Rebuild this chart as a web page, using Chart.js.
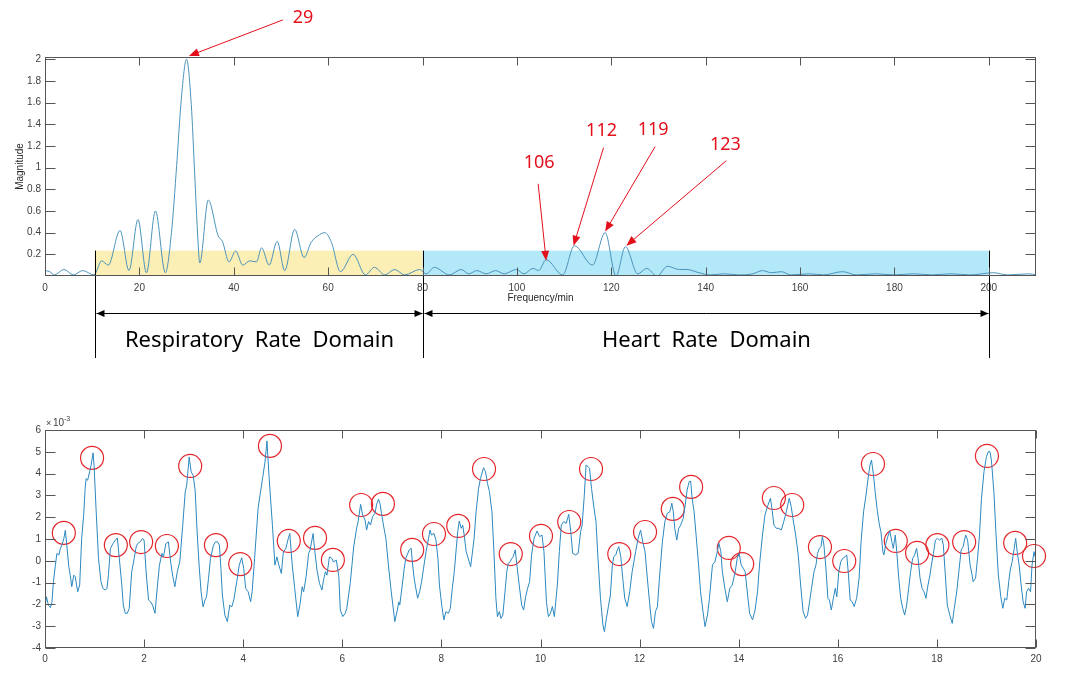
<!DOCTYPE html>
<html>
<head>
<meta charset="utf-8">
<script src="https://cdn.jsdelivr.net/npm/chart.js@4.4.1/dist/chart.umd.min.js"></script>
<style>
  html, body { margin: 0; padding: 0; background: #fff; width: 1069px; height: 683px; overflow: hidden; }
  canvas { position: absolute; left: 0; }
  #spec { top: 0; }
  #wave { top: 380px; }
</style>
</head>
<body>
<canvas id="spec" width="1069" height="380"></canvas>
<canvas id="wave" width="1069" height="303"></canvas>
<script>
// ---- spectrum (top) ----
const freq = [0, 1, 2, 4, 6, 8, 10.4, 12, 13.4, 15.9, 17.8, 19.7, 21.5, 23.4, 25.5, 26.8, 27.9, 28.9, 30, 31, 31.7, 32.4, 32.8,
  34.6, 36.7, 37.6, 39, 40.4, 41.9, 43.4, 44.8, 45.9, 47.5, 49.2, 50.8, 52.9, 54.9, 56.4, 57.8, 59.3, 60.7, 62.6, 65.3,
  67.9, 69.8, 72, 74.1, 76.2, 79.4, 80.8, 82.5, 85.7, 88.2, 89.8, 91.5, 93.5, 95.5, 97.3, 99.9, 101.5, 103.4, 104.6,
  106.2, 109.7, 112.2, 116, 118.7, 121, 123, 125.6, 127.5, 129.7, 131.9, 134.4, 136, 138.6, 141, 144, 147, 150, 152,
  154, 156, 158, 162, 165, 169, 172, 176, 180, 184, 188, 192, 196, 201, 204, 208.5, 210];
const mag = [0.05, 0.04, 0.01, 0.06, 0.01, 0.05, 0.01, 0.14, 0.10, 0.42, 0.05, 0.52, 0.03, 0.60, 0.03, 0.40, 1.02, 1.64, 2.00, 1.58, 0.96, 0.34, 0.12,
  0.70, 0.37, 0.32, 0.13, 0.23, 0.10, 0.14, 0.13, 0.26, 0.10, 0.32, 0.05, 0.43, 0.17, 0.31, 0.37, 0.40, 0.31, 0.04, 0.20,
  0.01, 0.08, 0.01, 0.06, 0.01, 0.06, 0.02, 0.08, 0.01, 0.06, 0.02, 0.05, 0.02, 0.05, 0.02, 0.06, 0.02, 0.07, 0.05,
  0.15, 0.01, 0.28, 0.10, 0.40, 0.00, 0.27, 0.02, 0.07, 0.00, 0.09, 0.06, 0.06, 0.03, 0.01, 0.02, 0.01, 0.02, 0.05,
  0.03, 0.04, 0.01, 0.02, 0.01, 0.04, 0.01, 0.02, 0.01, 0.02, 0.01, 0.02, 0.01, 0.03, 0.01, 0.02, 0.01];
const freqTicks = [0, 20, 40, 60, 80, 100, 120, 140, 160, 180, 200];
const magTicks = [0.2, 0.4, 0.6, 0.8, 1, 1.2, 1.4, 1.6, 1.8, 2];
const magTickLabels = ['0.2', '0.4', '0.6', '0.8', '1', '1.2', '1.4', '1.6', '1.8', '2'];

const peakLabels = ['29', '106', '112', '119', '123'];
const peakFreq = [30.5, 106.2, 112.0, 118.7, 123.2];
const peakMag = [2.03, 0.14, 0.28, 0.41, 0.28];
// where the label and the arrow tail sit, in px from the arrow tip
const labelOffset = [[114, -38], [-7, -98], [28, -115], [48, -102], [99, -101]];
const tailOffset = [[94, -36], [-8, -77], [30, -98], [50, -85], [100, -85]];

const domainNames = ['Respiratory  Rate  Domain', 'Heart  Rate  Domain'];
const domainEdges = [10.5, 80, 200];
const domainColors = ['#fcefb6', '#b3e8f8'];
const bandTop = 0.234;

// ---- time signal (bottom), values x1e-3 ----
const sigT = [0, 0.03, 0.07, 0.11, 0.14, 0.17, 0.21, 0.24, 0.28, 0.31, 0.34, 0.38, 0.41, 0.44, 0.48, 0.51, 0.54, 0.58, 0.61, 0.66,
  0.70, 0.74, 0.78, 0.81, 0.83, 0.86, 0.90, 0.93, 0.97, 0.99, 1.03, 1.08, 1.13, 1.17, 1.21, 1.25, 1.28, 1.32, 1.37, 1.42,
  1.46, 1.50, 1.55, 1.58, 1.62, 1.66, 1.70, 1.75, 1.80, 1.84, 1.87, 1.92, 1.97, 2.00, 2.04, 2.09, 2.13, 2.17, 2.22, 2.27,
  2.31, 2.36, 2.39, 2.44, 2.49, 2.54, 2.58, 2.62, 2.67, 2.72, 2.78, 2.83, 2.86, 2.91, 2.95, 2.99, 3.03, 3.07, 3.11, 3.15,
  3.19, 3.23, 3.26, 3.30, 3.34, 3.40, 3.44, 3.48, 3.52, 3.55, 3.58, 3.63, 3.68, 3.73, 3.77, 3.81, 3.87, 3.92, 3.97, 4.01,
  4.05, 4.10, 4.15, 4.18, 4.23, 4.30, 4.35, 4.39, 4.44, 4.48, 4.52, 4.55, 4.59, 4.64, 4.68, 4.72, 4.77, 4.81, 4.86, 4.91,
  4.94, 4.99, 5.04, 5.10, 5.15, 5.19, 5.22, 5.27, 5.32, 5.35, 5.41, 5.45, 5.49, 5.54, 5.59, 5.62, 5.66, 5.69, 5.74, 5.79,
  5.82, 5.88, 5.93, 5.96, 6.01, 6.06, 6.09, 6.16, 6.23, 6.29, 6.32, 6.37, 6.41, 6.46, 6.49, 6.53, 6.57, 6.61, 6.66, 6.69,
  6.73, 6.76, 6.79, 6.83, 6.88, 6.93, 6.98, 7.02, 7.06, 7.11, 7.14, 7.16, 7.21, 7.25, 7.28, 7.31, 7.35, 7.39, 7.42, 7.45,
  7.49, 7.52, 7.56, 7.60, 7.64, 7.69, 7.74, 7.77, 7.80, 7.85, 7.89, 7.93, 7.96, 8.01, 8.05, 8.09, 8.14, 8.18, 8.22, 8.26,
  8.30, 8.33, 8.36, 8.40, 8.43, 8.46, 8.50, 8.55, 8.59, 8.62, 8.66, 8.70, 8.75, 8.79, 8.85, 8.89, 8.93, 8.97, 9.02, 9.06,
  9.10, 9.13, 9.17, 9.20, 9.24, 9.29, 9.32, 9.35, 9.39, 9.42, 9.45, 9.49, 9.52, 9.57, 9.62, 9.66, 9.70, 9.74, 9.78, 9.82,
  9.87, 9.93, 9.98, 10.03, 10.07, 10.12, 10.16, 10.20, 10.24, 10.28, 10.34, 10.38, 10.42, 10.47, 10.52, 10.57, 10.61, 10.65, 10.71, 10.76,
  10.81, 10.84, 10.88, 10.92, 10.96, 10.99, 11.03, 11.08, 11.12, 11.16, 11.21, 11.26, 11.29, 11.33, 11.37, 11.41, 11.45, 11.48, 11.52, 11.55,
  11.58, 11.62, 11.66, 11.70, 11.75, 11.80, 11.85, 11.92, 11.97, 12.02, 12.07, 12.11, 12.15, 12.20, 12.24, 12.28, 12.32, 12.36, 12.40, 12.46,
  12.51, 12.56, 12.61, 12.65, 12.68, 12.71, 12.75, 12.79, 12.83, 12.88, 12.92, 12.96, 13.00, 13.03, 13.06, 13.10, 13.14, 13.19, 13.23, 13.28,
  13.32, 13.37, 13.41, 13.47, 13.52, 13.56, 13.60, 13.64, 13.67, 13.72, 13.77, 13.82, 13.87, 13.93, 13.97, 14.01, 14.05, 14.09, 14.13, 14.18,
  14.22, 14.28, 14.33, 14.38, 14.42, 14.48, 14.53, 14.58, 14.64, 14.67, 14.71, 14.76, 14.81, 14.86, 14.91, 14.96, 15.02, 15.06, 15.10, 15.15,
  15.20, 15.25, 15.30, 15.35, 15.39, 15.43, 15.47, 15.52, 15.56, 15.59, 15.63, 15.66, 15.69, 15.72, 15.76, 15.80, 15.83, 15.87, 15.91, 15.95,
  15.98, 16.02, 16.06, 16.10, 16.15, 16.18, 16.21, 16.25, 16.29, 16.33, 16.38, 16.43, 16.47, 16.52, 16.57, 16.62, 16.65, 16.68, 16.72, 16.76,
  16.80, 16.84, 16.87, 16.91, 16.93, 16.97, 17.01, 17.05, 17.09, 17.12, 17.16, 17.19, 17.23, 17.27, 17.31, 17.35, 17.39, 17.43, 17.47, 17.51,
  17.55, 17.59, 17.62, 17.66, 17.70, 17.74, 17.78, 17.82, 17.86, 17.89, 17.93, 17.97, 18.01, 18.05, 18.10, 18.13, 18.17, 18.21, 18.26, 18.31,
  18.35, 18.40, 18.45, 18.49, 18.53, 18.58, 18.62, 18.67, 18.71, 18.73, 18.78, 18.82, 18.86, 18.90, 18.95, 19.00, 19.04, 19.07, 19.10, 19.15,
  19.19, 19.24, 19.29, 19.33, 19.37, 19.41, 19.45, 19.48, 19.52, 19.56, 19.59, 19.62, 19.66, 19.70, 19.74, 19.78, 19.81, 19.85, 19.89, 19.92,
  19.96, 19.98];
const sigV = [-2.10, -1.65, -2.05, -2.15, -1.90, -0.96, -0.20, 0.34, 0.26, 0.56, 0.72, 1.02, 1.40, 0.72, -0.27, -0.66, -1.19, -0.66, -0.73, -1.42,
  -1.11, 1.02, 2.09, 3.31, 3.77, 3.69, 4.08, 4.38, 4.95, 4.38, 2.40, 0.11, -0.96, -1.27, -1.34, -1.27, -0.66, 0.56, 0.79, 0.95,
  1.05, 0.11, -1.11, -2.03, -2.41, -2.41, -2.18, -0.50, 0.11, 0.64, 0.79, 0.87, 1.02, 0.95, -0.50, -1.80, -1.88, -2.03, -2.41, -1.11,
  -0.20, 0.34, 0.18, 0.79, 0.87, -0.12, -0.73, -1.19, -0.50, -0.05, 1.63, 3.16, 3.47, 4.76, 4.08, 3.92, 3.24, 1.33, -0.20, -1.42,
  -2.11, -1.80, -1.65, -0.81, 0.11, 0.72, 0.87, 0.87, 0.72, -0.35, -1.57, -2.49, -2.79, -2.03, -2.11, -1.80, -0.96, -0.20, 0.14, -0.35,
  -1.27, -1.42, -1.88, -1.42, 0.11, 2.40, 3.16, 3.77, 4.53, 5.50, 3.92, 2.93, 1.63, -0.20, 0.18, -0.20, -0.58, 0.41, 0.56, 1.02,
  1.25, -0.20, -1.27, -2.56, -1.95, -1.19, -1.42, -0.73, 0.34, 0.49, 1.25, 0.34, -0.43, -1.04, -1.34, -0.89, -0.50, -0.66, 0.18, 0.11,
  -0.05, 0.03, -0.73, -2.26, -2.56, -2.41, -2.18, -1.04, 0.64, 1.50, 1.80, 2.59, 2.10, 1.87, 1.41, 1.80, 1.64, 2.02, 2.18, 2.56,
  2.83, 2.64, 2.18, 1.64, 1.03, -0.19, -1.26, -2.03, -2.79, -2.26, -1.88, -2.03, -1.11, -0.34, 0.11, 0.27, 0.50, 0.57, -0.19, -0.80,
  -1.34, -1.72, -1.42, -0.96, -0.34, 0.42, 1.03, 1.41, 1.18, 1.26, 0.95, 0.11, -1.11, -2.10, -2.71, -2.33, -2.41, -2.18, -1.26, -0.50,
  0.57, 1.34, 1.82, 1.49, 1.64, 1.18, 0.42, 0.04, -0.27, 0.27, 1.03, 2.25, 3.32, 3.78, 4.27, 4.09, 3.55, 3.17, 2.25, 0.42,
  -1.72, -2.56, -2.33, -2.64, -2.49, -1.26, -0.50, -0.11, -0.04, 0.11, 0.19, 0.50, -0.11, -1.11, -2.03, -2.26, -1.65, -1.26, -0.96, 0.27,
  1.03, 1.37, 1.11, 1.18, 0.42, -1.90, -2.56, -2.41, -2.10, -2.56, -1.11, 0.42, 1.64, 1.80, 1.72, 2.13, 1.34, 0.34, 0.27, 0.34,
  1.34, 1.64, 2.87, 4.39, 4.32, 4.24, 3.32, 2.41, 1.80, 0.11, -1.72, -2.94, -3.25, -2.64, -2.10, -1.57, -0.19, 0.19, 0.27, 0.50,
  0.65, 0.19, -0.80, -1.72, -2.10, -1.42, -0.50, 0.42, 1.03, 1.41, 0.80, 0.42, -0.65, -1.88, -2.79, -3.10, -2.33, -2.10, -0.80, 0.88,
  1.80, 2.18, 2.25, 2.64, 2.25, 1.49, 0.95, 1.49, 1.64, 1.95, 2.56, 3.25, 3.63, 3.66, 2.87, 2.25, 1.18, -0.19, -1.42, -2.33,
  -3.02, -2.49, -1.72, -0.19, -0.04, 0.34, 0.80, 0.42, -0.50, -1.26, -1.88, -1.26, -1.11, -0.50, 0.11, 0.34, -0.19, -0.34, -0.50, -1.57,
  -2.41, -2.71, -2.26, -1.42, -0.19, 1.18, 2.10, 2.48, 2.87, 2.41, 1.64, 1.49, 1.49, 1.41, 1.80, 2.25, 2.87, 2.48, 1.87, 1.18,
  0.30, -1.11, -2.33, -2.64, -2.49, -1.88, -1.26, -0.50, -0.19, 0.34, 0.57, 0.65, 1.11, 0.72, -0.34, -1.72, -1.80, -2.26, -1.72, -1.26,
  -1.65, -0.50, -0.04, 0.11, 0.19, 0.27, -0.50, -1.80, -1.88, -2.10, -1.72, -0.80, 0.88, 2.25, 3.02, 3.94, 4.39, 4.62, 3.94, 3.02,
  2.25, 1.64, 1.34, 0.42, 0.27, 0.80, 1.11, 1.37, 0.88, 0.57, 1.18, 0.42, -0.80, -1.72, -2.18, -2.49, -2.03, -1.26, -0.50, 0.11,
  0.27, 0.57, 0.11, -0.80, -1.26, -1.42, -1.72, -1.11, -0.65, -0.19, 0.34, 0.95, 1.03, 0.95, 1.03, 0.72, -0.65, -2.03, -2.49, -2.87,
  -2.18, -1.42, -0.34, 0.50, 0.65, 1.18, 0.95, -0.19, -0.65, -0.96, -0.80, 0.11, 1.18, 2.87, 4.09, 4.78, 5.01, 5.01, 4.62, 3.17,
  1.34, -0.65, -1.65, -2.18, -1.72, -1.80, -0.96, -0.42, -0.04, 0.57, 1.03, 0.42, -0.19, -1.11, -1.88, -2.18, -1.42, -1.26, -1.42, -0.19,
  0.42, 0.19];
const peakT = [0.38, 0.95, 1.43, 1.94, 2.46, 2.93, 3.45, 3.94, 4.54, 4.92, 5.45, 5.81, 6.38, 6.82, 7.41, 7.85, 8.34, 8.86, 9.40, 10.01,
  10.58, 11.02, 11.59, 12.11, 12.67, 13.04, 13.80, 14.07, 14.71, 15.08, 15.64, 16.13, 16.71, 17.17, 17.60, 18.01, 18.55, 19.01, 19.58, 19.96];
const peakV = [1.28, 4.72, 0.72, 0.86, 0.68, 4.35, 0.72, -0.15, 5.27, 0.91, 1.05, 0.04, 2.56, 2.61, 0.50, 1.23, 1.60, 4.21, 0.31, 1.14,
  1.78, 4.21, 0.31, 1.32, 2.38, 3.39, 0.59, -0.15, 2.88, 2.56, 0.63, -0.01, 4.44, 0.91, 0.36, 0.72, 0.86, 4.81, 0.82, 0.22];
const timeTicks = [0, 2, 4, 6, 8, 10, 12, 14, 16, 18, 20];
const ampTicks = [-4, -3, -2, -1, 0, 1, 2, 3, 4, 5, 6];

Chart.defaults.font.family = '"Liberation Sans", Arial, sans-serif';
Chart.defaults.font.size = 10;
Chart.defaults.color = '#404040';

function line(ctx, x1, y1, x2, y2) {
  ctx.beginPath(); ctx.moveTo(x1, y1); ctx.lineTo(x2, y2); ctx.stroke();
}

function arrowHead(ctx, fromX, fromY, x, y, len, half) {
  const a = Math.atan2(y - fromY, x - fromX);
  const c = Math.cos(a), s = Math.sin(a);
  ctx.beginPath();
  ctx.moveTo(x, y);
  ctx.lineTo(x - len * c + half * s, y - len * s - half * c);
  ctx.lineTo(x - len * c - half * s, y - len * s + half * c);
  ctx.closePath();
  ctx.fill();
}

// matlab style box with inward ticks on all four sides
const axesBox = {
  id: 'axesBox',
  afterDraw(chart) {
    const { ctx, chartArea: a, scales: { x, y } } = chart;
    ctx.save();
    ctx.strokeStyle = '#555';
    ctx.lineWidth = 1;
    const L = Math.round(a.left) + 0.5, R = Math.round(a.right) - 0.5;
    const T = Math.round(a.top) + 0.5, B = Math.round(a.bottom) - 0.5;
    ctx.strokeRect(L, T, R - L, B - T);
    x.ticks.forEach(t => {
      const px = Math.round(x.getPixelForValue(t.value)) + 0.5;
      line(ctx, px, B, px, B - 8);
      line(ctx, px, T, px, T + 8);
    });
    y.ticks.forEach(t => {
      const py = Math.round(y.getPixelForValue(t.value)) + 0.5;
      line(ctx, L, py, L + 10, py);
      line(ctx, R, py, R - 10, py);
    });
    ctx.restore();
  }
};

const specDecor = {
  id: 'specDecor',
  beforeDatasetsDraw(chart) {
    const { ctx, scales: { x, y } } = chart;
    ctx.save();
    for (let i = 0; i < 2; i++) {
      const x1 = x.getPixelForValue(domainEdges[i]), x2 = x.getPixelForValue(domainEdges[i + 1]);
      const y1 = y.getPixelForValue(bandTop), y2 = y.getPixelForValue(0);
      ctx.fillStyle = domainColors[i];
      ctx.fillRect(x1, y1, x2 - x1, y2 - y1);
    }
    ctx.restore();
  },
  afterDraw(chart) {
    const { ctx, chartArea: a, scales: { x, y } } = chart;
    ctx.save();
    // axis titles
    ctx.fillStyle = '#262626';
    ctx.font = '10px "Liberation Sans", Arial, sans-serif';
    ctx.textAlign = 'center';
    ctx.textBaseline = 'middle';
    ctx.fillText('Frequency/min', (a.left + a.right) / 2, a.bottom + 22);
    ctx.save();
    ctx.translate(20, (a.top + a.bottom) / 2);
    ctx.rotate(-Math.PI / 2);
    ctx.fillText('Magnitude', 0, 0);
    ctx.restore();

    // peak call-outs
    ctx.strokeStyle = '#e3101c';
    ctx.fillStyle = '#e3101c';
    ctx.lineWidth = 1;
    ctx.font = '18px "Noto Sans", "Open Sans", sans-serif';
    peakLabels.forEach((lab, i) => {
      const tx = x.getPixelForValue(peakFreq[i]), ty = y.getPixelForValue(peakMag[i]);
      const sx = tx + tailOffset[i][0], sy = ty + tailOffset[i][1];
      const a2 = Math.atan2(ty - sy, tx - sx);
      line(ctx, sx, sy, tx - 8 * Math.cos(a2), ty - 8 * Math.sin(a2));
      arrowHead(ctx, sx, sy, tx, ty, 10, 4);
      ctx.fillText(lab, tx + labelOffset[i][0], ty + labelOffset[i][1]);
    });

    // domain brackets under the axis
    const yTop = y.getPixelForValue(bandTop), yArrow = 313, yEnd = 358, yText = 341;
    const px = domainEdges.map(v => Math.round(x.getPixelForValue(v)) + 0.5);
    ctx.strokeStyle = '#000';
    ctx.fillStyle = '#000';
    px.forEach(p => line(ctx, p, yTop, p, yEnd));
    ctx.font = '22px "Noto Sans", "Open Sans", sans-serif';
    for (let i = 0; i < 2; i++) {
      line(ctx, px[i] + 1, yArrow + 0.5, px[i + 1] - 1, yArrow + 0.5);
      arrowHead(ctx, px[i + 1], yArrow + 0.5, px[i] + 1, yArrow + 0.5, 8, 3.5);
      arrowHead(ctx, px[i], yArrow + 0.5, px[i + 1] - 1, yArrow + 0.5, 8, 3.5);
      ctx.fillText(domainNames[i], (px[i] + px[i + 1]) / 2, yText);
    }
    ctx.restore();
  }
};

const waveDecor = {
  id: 'waveDecor',
  afterDraw(chart) {
    const { ctx, chartArea: a } = chart;
    ctx.save();
    ctx.fillStyle = '#404040';
    ctx.textBaseline = 'alphabetic';
    ctx.font = '9px "Liberation Sans", Arial, sans-serif';
    ctx.fillText('\u00d7', a.left + 1, a.top - 4);
    ctx.font = '10px "Liberation Sans", Arial, sans-serif';
    ctx.fillText('10', a.left + 8, a.top - 4);
    ctx.font = '7px "Liberation Sans", Arial, sans-serif';
    ctx.fillText('-3', a.left + 19, a.top - 9);
    ctx.restore();
  }
};

new Chart(document.getElementById('spec'), {
  type: 'line',
  data: {
    datasets: [{
      data: freq.map((f, i) => ({ x: f, y: mag[i] })),
      borderColor: '#4b93bb',
      borderWidth: 1,
      pointRadius: 0,
      cubicInterpolationMode: 'monotone'
    }]
  },
  options: {
    responsive: false,
    devicePixelRatio: 1,
    animation: false,
    events: [],
    layout: { padding: { top: 57, right: 33, left: 0, bottom: 0 } },
    plugins: { legend: { display: false }, tooltip: { enabled: false } },
    scales: {
      x: {
        type: 'linear', min: 0, max: 210,
        grid: { display: false, drawTicks: false },
        border: { display: false },
        afterBuildTicks: s => { s.ticks = freqTicks.map(v => ({ value: v })); },
        afterFit: s => { s.height = 104; },
        ticks: { padding: 6, maxRotation: 0 }
      },
      y: {
        min: 0, max: 2.02,
        grid: { display: false, drawTicks: false },
        border: { display: false },
        afterBuildTicks: s => { s.ticks = magTicks.map(v => ({ value: v })); },
        afterFit: s => { s.width = 45; },
        ticks: { padding: 4, callback: (v, i) => magTickLabels[i] }
      }
    }
  },
  plugins: [specDecor, axesBox]
});

new Chart(document.getElementById('wave'), {
  type: 'line',
  data: {
    datasets: [{
      data: sigT.map((t, i) => ({ x: t, y: sigV[i] })),
      borderColor: '#2b88c0',
      borderWidth: 1,
      pointRadius: 0,
      tension: 0
    }, {
      type: 'scatter',
      data: peakT.map((t, i) => ({ x: t, y: peakV[i] })),
      showLine: false,
      pointRadius: 11.5,
      pointBorderWidth: 1.2,
      pointBorderColor: '#e3262b',
      pointBackgroundColor: 'rgba(0,0,0,0)',
      clip: false
    }]
  },
  options: {
    responsive: false,
    devicePixelRatio: 1,
    animation: false,
    events: [],
    layout: { padding: { top: 50, right: 33, left: 0, bottom: 0 } },
    plugins: { legend: { display: false }, tooltip: { enabled: false } },
    scales: {
      x: {
        type: 'linear', min: 0, max: 20,
        grid: { display: false, drawTicks: false },
        border: { display: false },
        afterBuildTicks: s => { s.ticks = timeTicks.map(v => ({ value: v })); },
        afterFit: s => { s.height = 35; },
        ticks: { padding: 5, maxRotation: 0 }
      },
      y: {
        min: -4, max: 6,
        grid: { display: false, drawTicks: false },
        border: { display: false },
        afterBuildTicks: s => { s.ticks = ampTicks.map(v => ({ value: v })); },
        afterFit: s => { s.width = 45; },
        ticks: { padding: 4 }
      }
    }
  },
  plugins: [waveDecor, axesBox]
});
</script>
</body>
</html>
